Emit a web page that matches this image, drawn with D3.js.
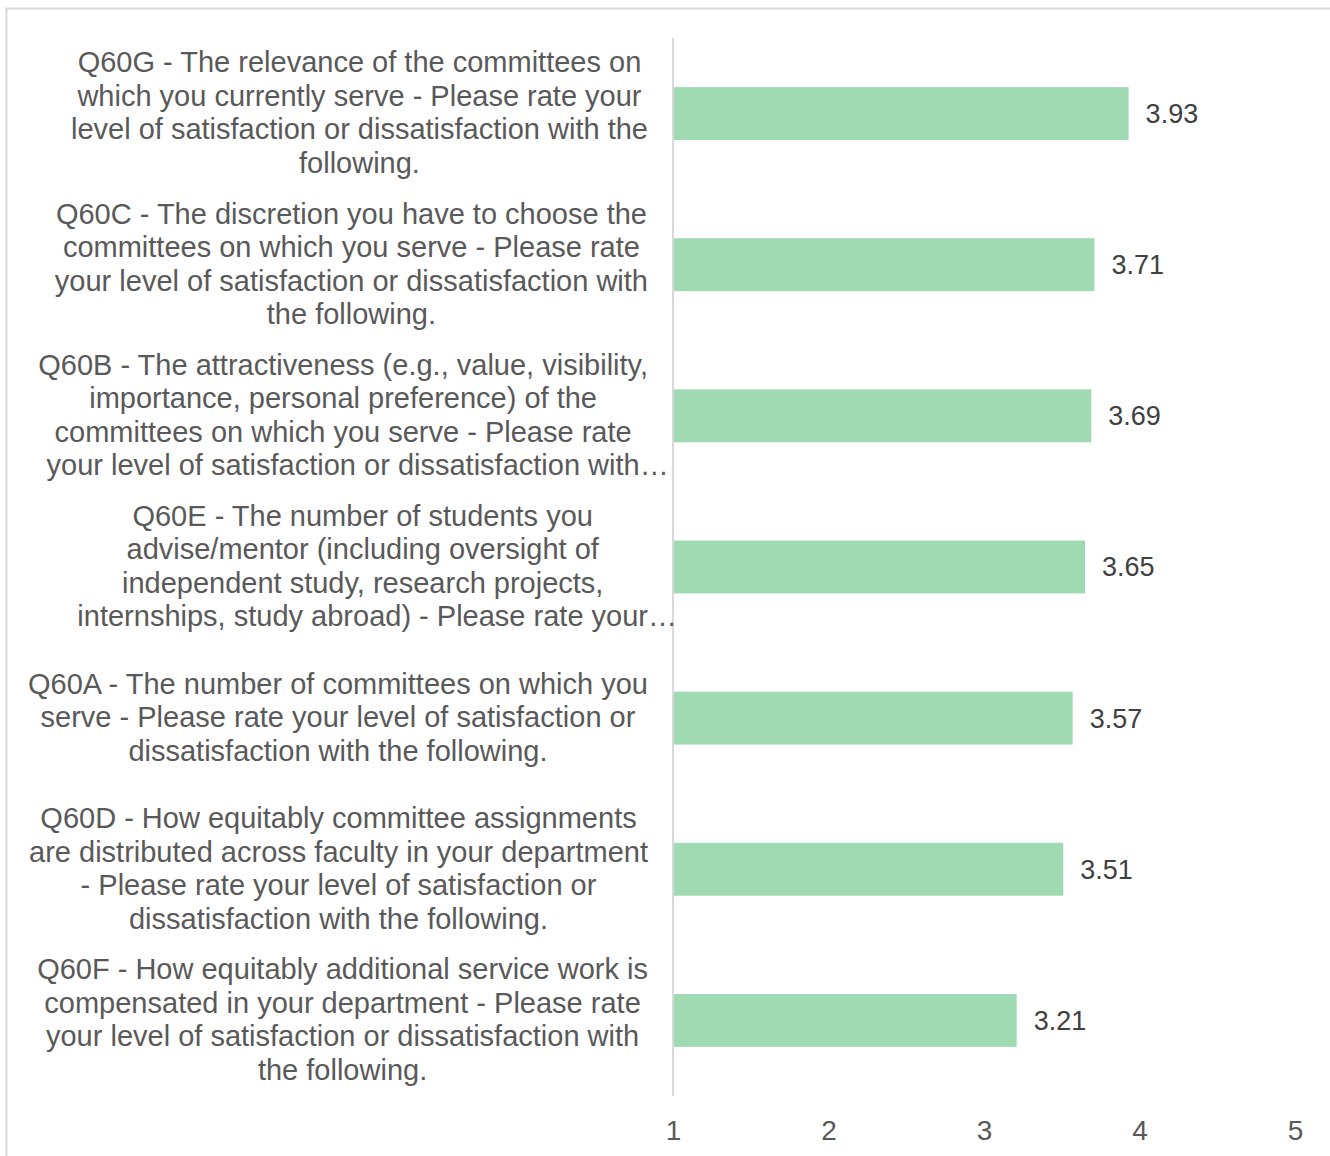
<!DOCTYPE html>
<html>
<head>
<meta charset="utf-8">
<script src="https://cdn.jsdelivr.net/npm/d3@7"></script>
<style>
  html, body { margin: 0; padding: 0; background: #fff; }
  svg { display: block; }
  text { font-family: "Liberation Sans", Arial, sans-serif; }
</style>
</head>
<body>
<svg id="chart" width="1330" height="1156"></svg>
<script>
// ---- data ----
const categories = ["Q60G", "Q60C", "Q60B", "Q60E", "Q60A", "Q60D", "Q60F"];
const labelLines = [
  ["Q60G - The relevance of the committees on", "which you currently serve - Please rate your", "level of satisfaction or dissatisfaction with the", "following."],
  ["Q60C - The discretion you have to choose the", "committees on which you serve - Please rate", "your level of satisfaction or dissatisfaction with", "the following."],
  ["Q60B - The attractiveness (e.g., value, visibility,", "importance, personal preference) of the", "committees on which you serve - Please rate", "your level of satisfaction or dissatisfaction with\u2026"],
  ["Q60E - The number of students you", "advise/mentor (including oversight of", "independent study, research projects,", "internships, study abroad) - Please rate your\u2026"],
  ["Q60A - The number of committees on which you", "serve - Please rate your level of satisfaction or", "dissatisfaction with the following."],
  ["Q60D - How equitably committee assignments", "are distributed across faculty in your department", "- Please rate your level of satisfaction or", "dissatisfaction with the following."],
  ["Q60F - How equitably additional service work is", "compensated in your department - Please rate", "your level of satisfaction or dissatisfaction with", "the following."]
];
const values = [3.93, 3.71, 3.69, 3.65, 3.57, 3.51, 3.21];
const tickValues = [1, 2, 3, 4, 5];

// ---- chart ----
const svg = d3.select("#chart");
const labelFont = 29;
const valueFont = 27;
const tickFont = 28;
const lineH = 33.5;

// outer border
svg.append("rect")
  .attr("x", 6.5).attr("y", 8.5)
  .attr("width", 1340).attr("height", 1160)
  .attr("fill", "#fff").attr("stroke", "#d9d9d9").attr("stroke-width", 2);

const x = d3.scaleLinear().domain([1, 5]).range([673, 1295]);
const y = d3.scaleBand().domain(categories).range([38, 1096])
  .paddingInner(0.65).paddingOuter(0.325);

// bars
svg.append("g").selectAll("rect")
  .data(values)
  .join("rect")
  .attr("x", x(1))
  .attr("y", (d, i) => y(categories[i]))
  .attr("width", d => x(d) - x(1))
  .attr("height", y.bandwidth())
  .attr("fill", "#a0dab3");

// value labels
svg.append("g").selectAll("text")
  .data(values)
  .join("text")
  .attr("x", d => x(d) + 17)
  .attr("y", (d, i) => y(categories[i]) + y.bandwidth() / 2)
  .attr("dy", "0.35em")
  .attr("font-size", valueFont)
  .attr("fill", "#404040")
  .text(d => d.toFixed(2));

// y axis line
svg.append("line")
  .attr("x1", x(1)).attr("x2", x(1))
  .attr("y1", 38).attr("y2", 1096)
  .attr("stroke", "#d9d9d9").attr("stroke-width", 2);

// category labels: block right-aligned, lines centred within block
const blockRight = 648;
const ELL = "\u2026";
const lg = svg.append("g");
categories.forEach((c, i) => {
  const lines = labelLines[i];
  const cy = y(c) + y.bandwidth() / 2 - 1;
  const t = lg.append("text")
    .attr("font-size", labelFont)
    .attr("fill", "#595959");
  const spans = lines.map((ln, j) => {
    const base = ln.endsWith(ELL) ? ln.slice(0, -1) : ln;
    const s = t.append("tspan")
      .attr("x", 0)
      .attr("y", cy + (j - (lines.length - 1) / 2) * lineH)
      .attr("dy", "0.35em")
      .text(base);
    return { s, base, full: ln, w: s.node().getComputedTextLength() };
  });
  const blockW = d3.max(spans, d => d.w);
  const cx = blockRight - blockW / 2;
  spans.forEach(d => {
    d.s.attr("x", cx - d.w / 2).text(d.full);
  });
});

// x axis tick labels
const xAxis = d3.axisBottom(x).tickValues(tickValues).tickSize(0).tickPadding(0).tickFormat(d3.format("d"));
const xg = svg.append("g").attr("transform", "translate(0,1120)").call(xAxis);
xg.select(".domain").remove();
xg.selectAll("text")
  .attr("font-size", tickFont)
  .attr("font-family", "Liberation Sans, Arial, sans-serif")
  .attr("fill", "#595959");
</script>
</body>
</html>
